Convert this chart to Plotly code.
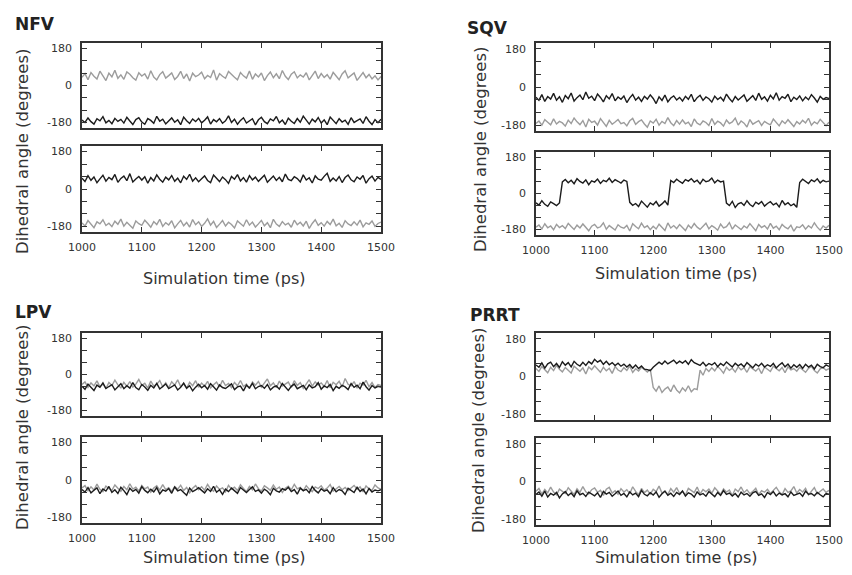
import plotly.graph_objects as go

time_ps = list(range(1000, 1501, 5))

nfv_top_gray = [40, 58, 28, 63, 45, 32, 70, 50, 24, 60,
                42, 74, 35, 52, 30, 66, 55, 38, 26, 62,
                46, 57, 31, 72, 41, 27, 53, 67, 36, 48,
                61, 29, 44, 69, 34, 56, 22, 60, 43, 51,
                65, 33, 49, 39, 76, 26, 58, 45, 35, 68,
                52, 40, 28, 63, 47, 36, 71, 30, 56, 42,
                61, 24, 48, 66, 38, 57, 33, 73, 45, 29,
                55, 67, 37, 52, 41, 62, 27, 49, 70, 34,
                58, 39, 53, 31, 64, 46, 28, 56, 72, 37,
                48, 61, 25, 42, 63, 38, 54, 32, 47, 27, 44]
nfv_top_black = [-168, -180, -158, -176, -188, -162, -172, -152, -182, -170,
                 -186, -160, -175, -165, -183, -155, -173, -190, -166, -157,
                 -178, -189, -161, -170, -184, -150, -174, -164, -187, -171,
                 -158, -179, -167, -191, -154, -172, -185, -163, -176, -160,
                 -182, -169, -153, -188, -166, -177, -161, -184, -172, -148,
                 -180, -164, -189, -170, -157, -183, -173, -162, -192, -167,
                 -155, -176, -186, -163, -172, -151, -182, -168, -190, -159,
                 -174, -185, -161, -179, -149, -170, -188, -164, -177, -156,
                 -183, -167, -191, -154, -173, -186, -162, -178, -169, -189,
                 -157, -180, -171, -163, -185, -152, -174, -190, -166, -181, -164]
nfv_bot_black = [52, 36, 64, 42, 58, 30, 49, 66, 38, 56,
                 45, 70, 32, 51, 62, 40, 74, 34, 48, 60,
                 43, 59, 28, 55, 39, 68, 47, 33, 57, 44,
                 65, 37, 52, 30, 61, 46, 71, 38, 54, 35,
                 49, 63, 41, 31, 67, 50, 36, 58, 45, 27,
                 60, 47, 69, 39, 55, 33, 64, 44, 57, 37,
                 51, 66, 32, 48, 62, 41, 56, 35, 72, 46,
                 40, 59, 50, 34, 68, 43, 54, 29, 63, 47,
                 42, 61, 76, 37, 53, 39, 60, 31, 55, 67,
                 44, 35, 58, 47, 65, 28, 50, 62, 38, 56, 46]
nfv_bot_gray = [-163, -178, -152, -172, -186, -158, -168, -148, -176, -165,
                -181, -155, -170, -145, -179, -160, -173, -189, -154, -167,
                -175, -150, -166, -184, -157, -171, -146, -180, -162, -173,
                -153, -187, -168, -151, -177, -161, -183, -147, -172, -158,
                -180, -165, -144, -174, -156, -185, -169, -152, -178, -160,
                -171, -188, -154, -166, -179, -148, -174, -159, -183, -168,
                -151, -177, -162, -186, -146, -169, -180, -157, -173, -164,
                -184, -150, -172, -160, -178, -155, -190, -166, -148, -175,
                -162, -179, -156, -171, -145, -177, -165, -185, -153, -168,
                -176, -158, -174, -150, -182, -163, -170, -154, -180, -166, -159]

sqv_top_black = [-48, -63, -36, -68, -45, -57, -30, -62, -46, -72,
                 -40, -55, -28, -66, -50, -38, -60, -24, -53, -43,
                 -64, -33, -49, -70, -41, -56, -31, -65, -47, -58,
                 -42, -73, -51, -35, -62, -48, -68, -44, -57, -37,
                 -54, -78, -46, -63, -38, -70, -52, -42, -61, -49,
                 -66, -44, -58, -34, -69, -50, -39, -63, -47, -55,
                 -71, -43, -59, -48, -65, -33, -54, -70, -45, -61,
                 -49, -37, -67, -52, -41, -63, -29, -58, -46, -66,
                 -39, -56, -27, -62, -45, -53, -34, -69, -48, -59,
                 -42, -65, -47, -60, -36, -52, -71, -44, -58, -50, -54]
sqv_top_gray = [-171, -160, -180, -154, -166, -178, -150, -174, -162, -169,
                -184, -156, -172, -146, -164, -177, -158, -188, -152, -167,
                -161, -179, -149, -170, -185, -157, -175, -165, -153, -172,
                -167, -183, -159, -148, -176, -163, -155, -174, -189, -160,
                -170, -152, -180, -162, -172, -144, -168, -182, -158, -175,
                -155, -173, -165, -186, -150, -170, -178, -160, -167, -181,
                -148, -176, -161, -169, -184, -155, -172, -164, -146, -179,
                -160, -170, -188, -153, -175, -166, -158, -181, -162, -171,
                -178, -151, -167, -183, -159, -172, -154, -170, -186, -163,
                -174, -157, -169, -147, -180, -164, -173, -152, -167, -182, -165]
sqv_bot_black = [-46, -58, -36, -54, -64, -42, -51, -60, -47, 58,
                 70, 54, 66, 49, 74, 60, 52, 68, 44, 63,
                 57, 72, 50, 66, 59, 76, 55, 69, 61, 52,
                 67, 60, -44, -59, -50, -65, -38, -54, -68, -47,
                 -56, -40, -63, -52, -37, -58, 65, 55, 71, 60,
                 51, 69, 62, 74, 57, 66, 48, 71, 59, 63,
                 77, 53, 67, 58, 62, -48, -60, -39, -70, -52,
                 -45, -59, -36, -55, -65, -43, -53, -40, -63, -50,
                 -41, -57, -48, -67, -35, -56, -46, -61, -52, -69,
                 55, 71, 61, 50, 68, 59, 73, 53, 66, 58, 62]
sqv_bot_gray = [-168, -157, -177, -151, -171, -162, -181, -154, -170, -160,
                -175, -149, -165, -179, -158, -172, -152, -168, -186, -163,
                -154, -172, -166, -146, -178, -160, -169, -182, -156, -168,
                -173, -159, -187, -151, -165, -176, -148, -170, -161, -180,
                -163, -177, -153, -169, -184, -147, -172, -160, -175, -155,
                -170, -185, -158, -173, -150, -168, -179, -162, -148, -176,
                -160, -170, -183, -153, -172, -165, -145, -178, -157, -168,
                -180, -162, -172, -150, -168, -186, -155, -170, -160, -177,
                -149, -173, -163, -181, -154, -168, -176, -158, -188, -166,
                -170, -156, -178, -161, -172, -146, -168, -183, -162, -172, -158]

lpv_top_black = [-58, -74, -48, -66, -80, -53, -64, -42, -70, -60,
                 -51, -77, -63, -46, -71, -56, -68, -40, -65, -76,
                 -50, -62, -79, -54, -67, -44, -72, -59, -47, -70,
                 -61, -52, -77, -64, -43, -68, -56, -81, -63, -49,
                 -66, -55, -73, -46, -61, -78, -52, -65, -70, -57,
                 -47, -75, -62, -58, -82, -53, -67, -44, -71, -60,
                 -55, -69, -50, -77, -63, -57, -73, -45, -65, -79,
                 -59, -48, -71, -63, -54, -76, -52, -67, -61, -41,
                 -73, -57, -65, -50, -80, -59, -69, -54, -62, -75,
                 -45, -64, -53, -71, -38, -61, -78, -55, -67, -59, -63]
lpv_top_gray = [-50, -37, -64, -42, -57, -32, -61, -47, -70, -40,
                -55, -28, -52, -67, -39, -59, -35, -63, -48, -25,
                -54, -44, -68, -33, -58, -48, -30, -62, -41, -66,
                -36, -53, -27, -60, -47, -69, -39, -56, -31, -64,
                -43, -58, -34, -67, -51, -38, -62, -29, -55, -45,
                -66, -40, -56, -30, -60, -48, -71, -37, -53, -35,
                -63, -44, -22, -56, -42, -66, -33, -58, -49, -38,
                -65, -31, -54, -41, -69, -47, -26, -58, -37, -53,
                -42, -60, -30, -66, -39, -51, -34, -63, -20, -49,
                -57, -35, -68, -43, -53, -29, -61, -40, -65, -50, -55]
lpv_bot_black = [-46, -58, -36, -62, -49, -38, -66, -43, -53, -31,
                 -60, -47, -65, -35, -51, -70, -40, -55, -45, -63,
                 -32, -50, -61, -44, -57, -37, -67, -48, -54, -41,
                 -64, -34, -52, -46, -60, -74, -39, -56, -48, -37,
                 -50, -62, -42, -55, -30, -59, -47, -69, -44, -56,
                 -39, -51, -64, -36, -50, -60, -46, -33, -55, -48,
                 -63, -44, -54, -71, -40, -52, -58, -42, -49, -35,
                 -56, -46, -68, -39, -51, -45, -61, -32, -50, -62,
                 -42, -54, -48, -66, -37, -57, -46, -52, -70, -40,
                 -50, -60, -35, -55, -44, -67, -41, -58, -48, -52, -47]
lpv_bot_gray = [-38, -27, -52, -33, -48, -20, -45, -56, -29, -42,
                -50, -24, -40, -55, -31, -47, -18, -44, -35, -53,
                -26, -43, -34, -59, -39, -28, -49, -22, -46, -37,
                -55, -32, -44, -25, -51, -36, -62, -40, -27, -47,
                -33, -49, -21, -43, -54, -29, -45, -38, -57, -26,
                -44, -35, -51, -23, -41, -56, -31, -47, -19, -42,
                -53, -28, -38, -50, -24, -45, -34, -60, -40, -30,
                -47, -21, -43, -36, -52, -27, -44, -56, -33, -41,
                -28, -49, -39, -22, -54, -42, -31, -47, -36, -51,
                -40, -26, -45, -33, -57, -29, -43, -50, -24, -38, -44]

prrt_top_black = [55, 44, 65, 40, 60, 68, 47, 62, 43, 70,
                  54, 66, 46, 72, 58, 50, 68, 53, 71, 60,
                  82, 68, 77, 58, 72, 56, 66, 52, 63, 49,
                  59, 45, 57, 40, 55, 38, 50, 35, 33, 28,
                  44, 55, 68, 58, 74, 60, 70, 78, 62, 73,
                  64, 75, 58, 80, 66, 61, 53, 68, 50, 62,
                  55, 66, 47, 62, 52, 69, 57, 45, 63, 51,
                  60, 46, 66, 54, 42, 59, 49, 63, 45, 56,
                  48, 62, 41, 55, 65, 46, 59, 40, 56, 44,
                  57, 39, 58, 45, 54, 36, 58, 47, 42, 55, 48]
prrt_top_gray = [38, 24, 48, 31, 18, 44, 28, 53, 34, 22,
                 43, 30, 16, 49, 36, 25, 41, 12, 45, 32,
                 51, 33, 20, 44, 27, 39, 15, 47, 31, 23,
                 42, 29, 50, 19, 37, 26, 44, 33, 21, 35,
                 -52, -70, -45, -76, -60, -50, -72, -40, -64, -78,
                 -54, -69, -44, -73, -58, -62, 30, 6, 38, 24,
                 41, 27, 48, 34, 16, 44, 29, 39, 21, 46,
                 32, 42, 20, 47, 35, 26, 40, 14, 45, 33,
                 24, 49, 36, 27, 43, 18, 46, 31, 38, 25,
                 44, 33, 20, 39, 48, 29, 17, 36, 42, 30, 37]
prrt_bot_black = [-62, -50, -70, -46, -74, -57, -65, -52, -78, -59,
                  -48, -67, -55, -72, -44, -63, -56, -71, -51, -61,
                  -68, -54, -76, -47, -60, -52, -70, -58, -45, -66,
                  -57, -73, -49, -64, -55, -72, -42, -61, -68, -53,
                  -64, -50, -75, -58, -46, -66, -56, -71, -52, -62,
                  -45, -69, -54, -60, -74, -50, -64, -57, -70, -48,
                  -59, -72, -52, -66, -43, -61, -55, -69, -57, -74,
                  -51, -64, -57, -70, -54, -47, -66, -59, -76, -52,
                  -62, -48, -69, -55, -64, -58, -73, -50, -66, -59,
                  -55, -70, -46, -61, -57, -68, -52, -63, -73, -57, -61]
prrt_bot_gray = [-46, -33, -60, -38, -54, -27, -50, -63, -36, -48,
                 -57, -30, -44, -62, -35, -52, -24, -49, -59, -39,
                 -31, -51, -42, -66, -37, -28, -55, -44, -61, -34,
                 -50, -39, -58, -25, -47, -63, -33, -53, -41, -60,
                 -37, -48, -22, -55, -45, -62, -34, -51, -29, -57,
                 -47, -64, -33, -42, -53, -26, -59, -38, -49, -36,
                 -56, -30, -45, -61, -35, -50, -41, -67, -36, -48,
                 -26, -53, -39, -58, -47, -32, -63, -44, -51, -37,
                 -57, -41, -28, -49, -62, -34, -52, -45, -24, -55,
                 -38, -50, -33, -64, -44, -29, -58, -46, -36, -52, -42]

panel_names = ["NFV", "SQV", "LPV", "PRRT"]
x_ticks = [1000, 1100, 1200, 1300, 1400, 1500]
x_tick_text = ["1000", "1100", "1200", "1300", "1400", "1500"]
y_ticks = [-180, -120, -60, 0, 60, 120, 180]
y_tick_text = ["-180", "", "", "0", "", "", "180"]
x_title = "Simulation time (ps)"
y_title = "Dihedral angle (degrees)"

subplot_series = [
    (nfv_top_gray, nfv_top_black), (nfv_bot_gray, nfv_bot_black),
    (sqv_top_gray, sqv_top_black), (sqv_bot_gray, sqv_bot_black),
    (lpv_top_gray, lpv_top_black), (lpv_bot_gray, lpv_bot_black),
    (prrt_top_gray, prrt_top_black), (prrt_bot_gray, prrt_bot_black),
]

# ---------------- layout (target pixel positions in the 852x575 screenshot) ----------------
OFF = 8                              # page body margin shifts the figure by this many pixels
W, H = 852 - 2 * OFF, 575 - 2 * OFF  # figure fits inside the page body without overflow


def fx(px):
    return (px - OFF) / W


def fy(py):
    return 1 - (py - OFF) / H


boxes = [
    (82, 381, 43, 128), (82, 381, 146, 232),
    (536, 829, 43, 131), (536, 829, 152, 235),
    (82, 381, 333, 416), (82, 381, 437, 523),
    (536, 829, 333, 420), (536, 829, 438, 525),
]

GRAY = "#9c9c9c"
BLACK = "#1c1c1c"
AXC = "#333333"
FONT = "DejaVu Sans, Verdana, sans-serif"

fig = go.Figure()
layout = dict(width=W, height=H, autosize=False,
              margin=dict(l=0, r=0, t=0, b=0, pad=0, autoexpand=False),
              paper_bgcolor="white", plot_bgcolor="white", showlegend=False,
              font=dict(family=FONT, color=AXC, size=12))

for i, ((gs, bs), (x0, x1, yt, yb)) in enumerate(zip(subplot_series, boxes)):
    n = i + 1
    xa = "x" if n == 1 else f"x{n}"
    ya = "y" if n == 1 else f"y{n}"
    fig.add_trace(go.Scatter(x=time_ps, y=gs, mode="lines", xaxis=xa, yaxis=ya,
                             line=dict(color=GRAY, width=1.4)))
    fig.add_trace(go.Scatter(x=time_ps, y=bs, mode="lines", xaxis=xa, yaxis=ya,
                             line=dict(color=BLACK, width=1.4)))
    is_bottom = (n % 2 == 0)
    xkey = "xaxis" if n == 1 else f"xaxis{n}"
    ykey = "yaxis" if n == 1 else f"yaxis{n}"
    layout[xkey] = dict(domain=[fx(x0), fx(x1)], anchor=ya, range=[1000, 1500],
                        tickvals=x_ticks, ticktext=x_tick_text, automargin=False,
                        showticklabels=is_bottom, ticks="inside", ticklen=5,
                        tickwidth=1, tickcolor=AXC, showline=True, linecolor=AXC,
                        linewidth=1.5, mirror="ticks", showgrid=False, zeroline=False,
                        ticklabelstandoff=4, ticklabeloverflow="allow",
                        tickfont=dict(size=11, color="#333333", family=FONT))
    layout[ykey] = dict(domain=[fy(yb), fy(yt)], anchor=xa, range=[-207, 207],
                        tickvals=y_ticks, ticktext=y_tick_text, automargin=False,
                        ticks="inside", ticklen=5, tickwidth=1, tickcolor=AXC,
                        showline=True, linecolor=AXC, linewidth=1.5, mirror="ticks",
                        showgrid=False, zeroline=False, ticklabelstandoff=6,
                        tickfont=dict(size=11, color="#333333", family=FONT))

fig.update_layout(**layout)

ann = []
for name, (px, py) in zip(panel_names, [(13, 24), (465, 28), (13, 312), (468, 315)]):
    ann.append(dict(text=f"<b>{name}</b>", x=fx(px), y=fy(py), xref="paper", yref="paper",
                    xanchor="left", yanchor="middle", showarrow=False,
                    font=dict(size=17, color="#222222", family=FONT)))
for (px, py) in [(224, 278), (676, 273), (224, 557), (676, 557)]:
    ann.append(dict(text=x_title, x=fx(px), y=fy(py), xref="paper", yref="paper",
                    xanchor="center", yanchor="middle", showarrow=False,
                    font=dict(size=16, color="#333333", family=FONT)))
for (px, py) in [(22, 152), (480, 149), (22, 428), (478, 431)]:
    ann.append(dict(text=y_title, x=fx(px), y=fy(py), xref="paper", yref="paper",
                    xanchor="center", yanchor="middle", showarrow=False, textangle=-90,
                    font=dict(size=16.5, color="#333333", family=FONT)))
fig.update_layout(annotations=ann)

fig.write_html("out.html")
